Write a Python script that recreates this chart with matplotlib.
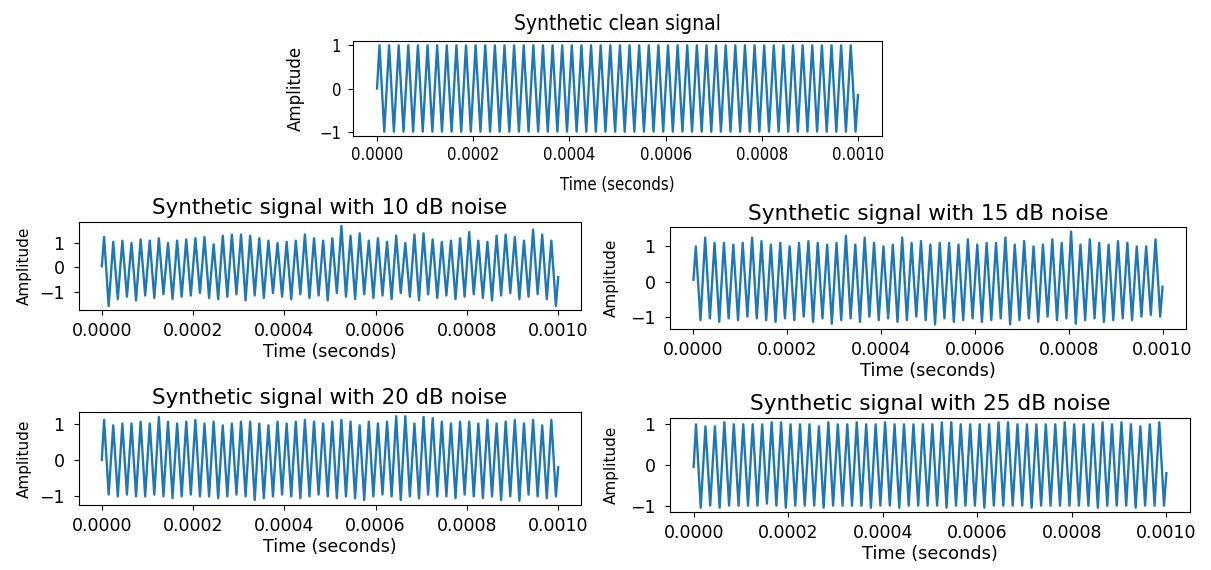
import numpy as np
import matplotlib
matplotlib.use("Agg")
import matplotlib.pyplot as plt

# signal settings (50 cycles in 1 ms)
duration = 0.001
n_cycles = 50

# values read at each start, peak, trough and end of the plotted signals
clean_start, clean_end = 0.0, -0.15
clean_peaks = [1.0] * 50
clean_troughs = [-1.0] * 50

n10_start, n10_end = 0.05, -0.40
n10_peaks = [1.25, 1.05, 1.10, 1.00, 1.15, 1.10, 1.20, 1.00, 1.10, 1.15,
             1.20, 1.25, 0.95, 1.30, 1.35, 1.35, 1.30, 1.20, 1.10, 1.00,
             1.05, 1.10, 1.35, 1.20, 1.10, 1.20, 1.70, 1.30, 1.40, 1.10,
             1.20, 1.05, 1.30, 1.00, 1.35, 1.40, 1.15, 1.05, 1.10, 1.20,
             1.45, 1.10, 1.05, 1.30, 1.35, 1.25, 1.10, 1.55, 1.35, 1.10]
n10_troughs = [-1.58, -1.30, -1.20, -1.35, -1.15, -1.25, -1.10, -1.30, -1.20, -1.15,
               -1.05, -1.25, -1.30, -1.20, -1.10, -1.35, -1.15, -1.25, -1.05, -1.20,
               -1.30, -1.10, -1.25, -1.15, -1.35, -1.05, -1.20, -1.30, -1.10, -1.25,
               -1.15, -1.30, -1.05, -1.20, -1.35, -1.10, -1.25, -1.15, -1.30, -1.20,
               -1.10, -1.25, -1.35, -1.15, -1.05, -1.30, -1.20, -1.10, -1.30, -1.58]

n15_start, n15_end = 0.05, -0.15
n15_peaks = [1.00, 1.25, 1.10, 1.10, 1.05, 1.10, 1.25, 1.15, 1.05, 1.10,
             1.00, 1.10, 1.15, 1.10, 1.05, 1.10, 1.30, 1.05, 1.25, 1.10,
             1.00, 1.05, 1.25, 1.10, 1.15, 1.05, 1.10, 1.10, 1.05, 1.20,
             1.05, 1.10, 1.10, 1.25, 1.05, 1.15, 1.00, 1.05, 1.20, 1.10,
             1.42, 1.05, 1.20, 1.10, 1.05, 1.15, 1.10, 1.00, 1.00, 1.20]
n15_troughs = [-1.10, -1.05, -1.15, -1.05, -1.10, -1.00, -1.05, -1.10, -1.15, -1.05,
               -1.10, -1.00, -1.15, -1.05, -1.20, -1.10, -1.05, -1.15, -1.00, -1.10,
               -1.05, -1.15, -1.10, -1.00, -1.10, -1.22, -1.05, -1.15, -1.10, -1.05,
               -1.15, -1.10, -1.05, -1.22, -1.10, -1.05, -1.15, -1.00, -1.10, -1.05,
               -1.20, -1.10, -1.05, -1.15, -1.10, -1.05, -1.10, -1.00, -0.95, -1.00]

n20_start, n20_end = 0.0, -0.20
n20_peaks = [1.10, 0.95, 1.00, 1.00, 1.05, 1.00, 1.18, 1.05, 1.00, 1.05,
             1.10, 1.00, 1.05, 0.95, 1.00, 1.05, 1.05, 1.00, 0.95, 1.05,
             1.00, 1.05, 1.10, 1.05, 1.00, 1.05, 1.10, 1.05, 0.95, 1.05,
             1.00, 1.05, 1.20, 1.20, 1.00, 1.18, 1.15, 1.05, 1.00, 1.05,
             1.05, 1.00, 1.10, 1.00, 1.05, 1.10, 1.00, 1.10, 0.95, 1.10]
n20_troughs = [-0.95, -1.00, -0.95, -1.00, -1.00, -0.95, -1.00, -1.05, -1.00, -0.95,
               -1.00, -1.00, -1.05, -1.00, -0.95, -1.00, -1.10, -1.05, -1.00, -0.95,
               -1.00, -1.05, -1.00, -0.95, -1.00, -1.05, -1.00, -1.05, -1.10, -1.00,
               -0.95, -1.00, -1.10, -1.00, -1.05, -0.95, -1.00, -1.00, -1.05, -0.95,
               -1.00, -1.05, -1.00, -1.10, -1.00, -1.12, -0.95, -1.00, -1.05, -1.00]

n25_start, n25_end = -0.05, -0.20
n25_peaks = [1.00, 0.95, 0.95, 1.05, 1.00, 1.00, 1.00, 1.00, 1.05, 1.05,
             1.00, 1.00, 1.00, 0.95, 1.05, 1.00, 1.00, 1.05, 1.00, 1.00,
             1.05, 1.00, 1.00, 1.00, 1.00, 1.00, 1.05, 1.05, 1.00, 1.00,
             1.00, 1.00, 1.05, 1.05, 1.00, 1.00, 1.00, 1.00, 1.00, 1.05,
             1.00, 1.00, 1.00, 1.05, 1.00, 1.05, 1.00, 0.95, 1.00, 1.05]
n25_troughs = [-1.05, -1.00, -1.05, -1.00, -1.00, -1.00, -1.00, -0.95, -1.00, -1.05,
               -1.00, -1.00, -1.00, -1.05, -1.00, -1.00, -1.00, -1.00, -1.05, -1.00,
               -1.00, -1.05, -1.00, -1.00, -1.00, -1.00, -1.05, -1.00, -1.00, -1.00,
               -1.05, -1.00, -1.00, -1.00, -1.00, -1.05, -1.00, -1.00, -1.00, -1.00,
               -1.00, -1.00, -1.05, -1.00, -1.00, -1.00, -1.05, -1.00, -1.00, -1.00]

xticks = [0.0, 0.0002, 0.0004, 0.0006, 0.0008, 0.0010]


def build_signal(start, peaks, troughs, end):
    period = duration / n_cycles
    t = [0.0]
    y = [start]
    for k in range(n_cycles):
        t += [(k + 0.25) * period, (k + 0.75) * period]
        y += [peaks[k], troughs[k]]
    t.append(duration)
    y.append(end)
    return np.array(t), np.array(y)


W, H = 1211, 570
fig = plt.figure(figsize=(W / 100, H / 100), dpi=100)


def pixel_axes(left, top, right, bottom):
    return fig.add_axes([left / W, 1 - bottom / H, (right - left) / W, (bottom - top) / H])


# title, box (px), data, sizes (title, ticks, xlabel, ylabel),
# pads (title, ytick, xtick, xlabel, ylabel), font stretch
panels = [
    ("Synthetic clean signal", (353, 41, 882, 136), clean_start, clean_peaks, clean_troughs, clean_end,
     (15, 12, 12, 12), (8, 5, 4, 8, 10), "condensed"),
    ("Synthetic signal with 10 dB noise", (79, 222, 581, 310), n10_start, n10_peaks, n10_troughs, n10_end,
     (15.4, 12.5, 12.5, 11), (6, 7, 5, 2, 5), "normal"),
    ("Synthetic signal with 15 dB noise", (670, 227, 1186, 329), n15_start, n15_peaks, n15_troughs, n15_end,
     (15.6, 12.5, 12.8, 11), (5, 7, 5, 2, 8), "normal"),
    ("Synthetic signal with 20 dB noise", (79, 412, 581, 505), n20_start, n20_peaks, n20_troughs, n20_end,
     (15.4, 12.5, 12.5, 11), (6, 7, 5, 2, 5), "normal"),
    ("Synthetic signal with 25 dB noise", (670, 418, 1190, 512), n25_start, n25_peaks, n25_troughs, n25_end,
     (15.6, 12.5, 12.8, 11), (6, 7, 5, 2, 8), "normal"),
]

for title, box, start, peaks, troughs, end, sizes, pads, stretch in panels:
    title_size, tick_size, xlabel_size, ylabel_size = sizes
    title_pad, ytick_pad, xtick_pad, xlabel_pad, ylabel_pad = pads
    ax = pixel_axes(*box)
    t, y = build_signal(start, peaks, troughs, end)
    ax.plot(t, y, color="#1f77b4", linewidth=1.7)
    ax.set_title(title, fontsize=title_size, pad=title_pad, fontstretch=stretch)
    ax.set_xlabel("Time (seconds)", fontsize=xlabel_size, labelpad=xlabel_pad, fontstretch=stretch)
    ax.set_ylabel("Amplitude", fontsize=ylabel_size, labelpad=ylabel_pad)
    ax.set_xticks(xticks)
    ax.set_xticklabels([f"{v:.4f}" for v in xticks])
    ax.set_yticks([-1, 0, 1])
    ax.tick_params(labelsize=tick_size)
    ax.tick_params(axis="x", pad=xtick_pad)
    ax.tick_params(axis="y", pad=ytick_pad)
    for lab in ax.get_xticklabels() + ax.get_yticklabels():
        lab.set_fontstretch(stretch)

fig.savefig("out.png", dpi=100)
